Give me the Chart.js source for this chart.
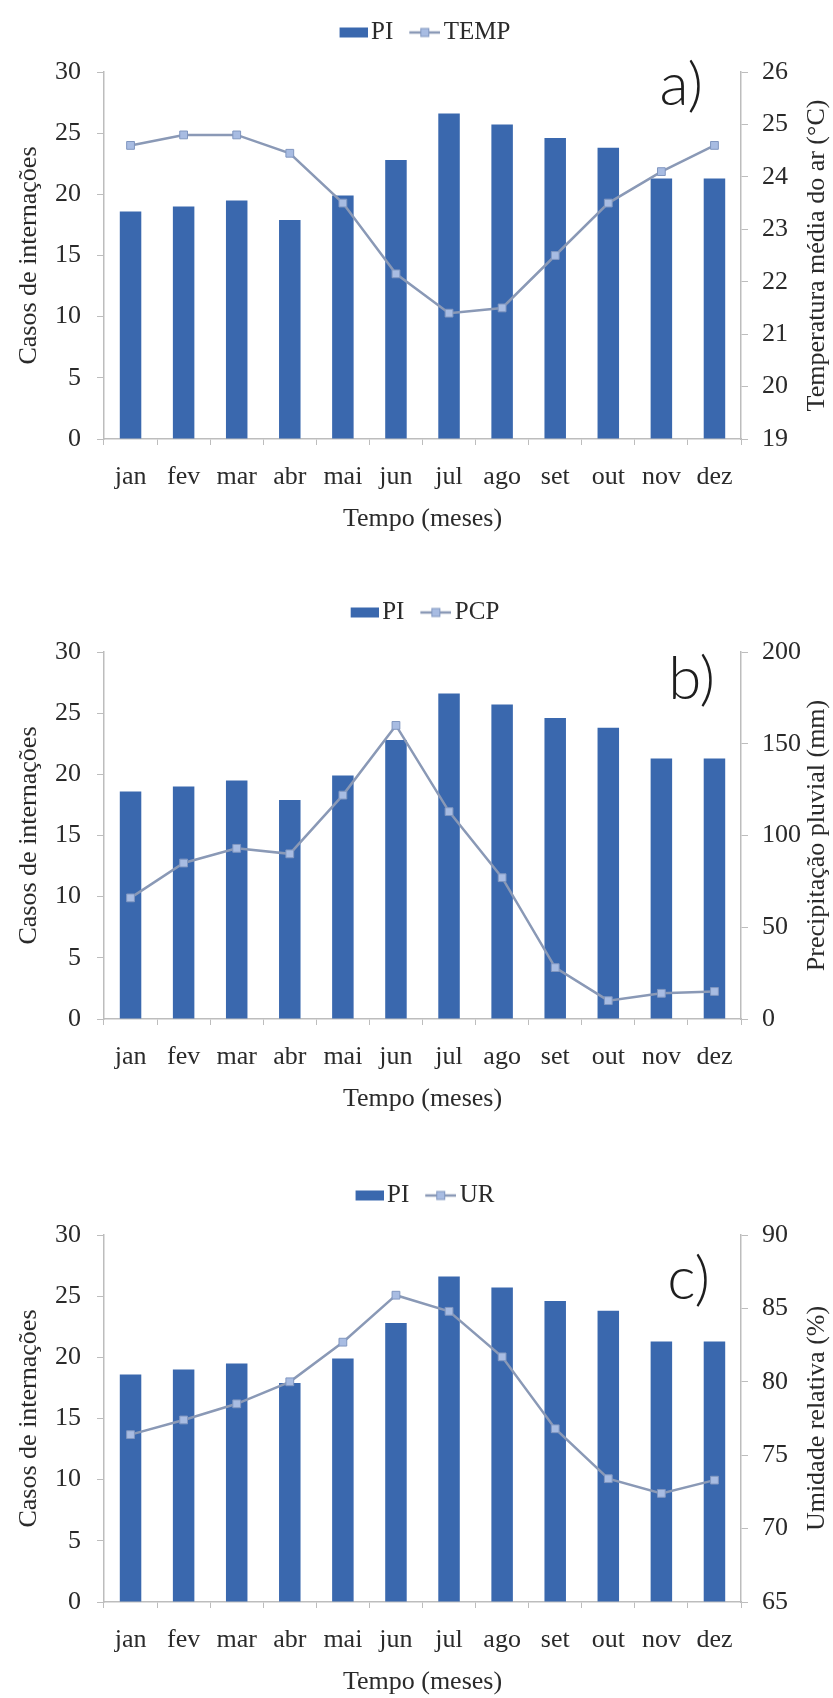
<!DOCTYPE html>
<html>
<head>
<meta charset="utf-8">
<script src="https://cdn.jsdelivr.net/npm/chart.js@4.4.1/dist/chart.umd.min.js"></script>
<style>
  html, body { margin: 0; padding: 0; background: #fff; }
  body { width: 833px; height: 1698px; position: relative; overflow: hidden; }
  .panel { position: absolute; left: 0; width: 833px; height: 535px; }
</style>
</head>
<body>
<div class="panel" style="top:0"><canvas id="chartA"></canvas></div>
<div class="panel" style="top:580px"><canvas id="chartB"></canvas></div>
<div class="panel" style="top:1163px"><canvas id="chartC"></canvas></div>
<script>
// ── Data ──
const MONTHS = ['jan', 'fev', 'mar', 'abr', 'mai', 'jun', 'jul', 'ago', 'set', 'out', 'nov', 'dez'];
const PI   = [18.6, 19.0, 19.5, 17.9, 19.9, 22.8, 26.6, 25.7, 24.6, 23.8, 21.3, 21.3];
const TEMP = [24.6, 24.8, 24.8, 24.45, 23.5, 22.15, 21.4, 21.5, 22.5, 23.5, 24.1, 24.6];
const PCP  = [66, 85, 93, 90, 122, 160, 113, 77, 28, 10, 14, 15];
const UR   = [76.4, 77.4, 78.5, 80.0, 82.7, 85.9, 84.8, 81.7, 76.8, 73.4, 72.4, 73.3];

const LEFT_TICKS = [0, 5, 10, 15, 20, 25, 30];
const TEMP_TICKS = [19, 20, 21, 22, 23, 24, 25, 26];
const PCP_TICKS  = [0, 50, 100, 150, 200];
const UR_TICKS   = [65, 70, 75, 80, 85, 90];

const LEFT_TITLE = 'Casos de internações';
const X_TITLE = 'Tempo (meses)';

// ── Styles ──
const BAR_COLOR = '#3a68ae';
const LINE_COLOR = '#8a99b6';
const MARKER_FILL = '#a8bce2';
const MARKER_EDGE = '#8197c0';
const AXIS = '#bdbdbd';
const TEXT = '#2a2a2a';
const SERIF = "'Liberation Serif', 'Times New Roman', serif";
const FONT = { family: SERIF, size: 26 };

// legend icons: a bar swatch and a line with a square marker
function legendIcon(kind) {
    const c = document.createElement('canvas');
    c.width = 42; c.height = 12;
    const g = c.getContext('2d');
    if (kind === 'bar') {
        g.fillStyle = BAR_COLOR;
        g.fillRect(14, 1, 28, 10);
    } else {
        g.strokeStyle = LINE_COLOR; g.lineWidth = 2.5;
        g.beginPath(); g.moveTo(11, 6); g.lineTo(42, 6); g.stroke();
        g.fillStyle = MARKER_FILL; g.strokeStyle = MARKER_EDGE; g.lineWidth = 1;
        g.fillRect(22.5, 2, 8, 8); g.strokeRect(22.5, 2, 8, 8);
    }
    return c;
}
const ICON_BAR = legendIcon('bar');
const ICON_LINE = legendIcon('line');

// panel tag ("a)") and the right axis title, which reads bottom to top
const panelDecor = {
    id: 'panelDecor',
    afterDraw(chart, args, opts) {
        const { ctx, chartArea } = chart;
        ctx.save();
        ctx.font = "300 60px Lato, 'DejaVu Sans', sans-serif";
        ctx.fillStyle = '#1e1e1e';
        ctx.textAlign = 'right';
        ctx.textBaseline = 'middle';
        ctx.fillText(opts.tag, chartArea.right - opts.tagRight, chartArea.top + opts.tagDy);

        ctx.translate(opts.titleX, (chartArea.top + chartArea.bottom) / 2);
        ctx.rotate(-Math.PI / 2);
        ctx.font = `26px ${SERIF}`;
        ctx.fillStyle = TEXT;
        ctx.textAlign = 'center';
        ctx.fillText(opts.rightTitle, 0, 0);
        ctx.restore();
    }
};

function makePanel(id, lineLabel, lineData, rightTicks, rightTitle, tag, tagDy, tagRight) {
    new Chart(document.getElementById(id), {
        type: 'bar',
        data: {
            labels: MONTHS,
            datasets: [
                {
                    type: 'bar',
                    label: 'PI',
                    data: PI,
                    backgroundColor: BAR_COLOR,
                    barPercentage: 0.405,
                    categoryPercentage: 1,
                    yAxisID: 'y',
                    order: 1,
                },
                {
                    type: 'line',
                    label: lineLabel,
                    data: lineData,
                    borderColor: LINE_COLOR,
                    borderWidth: 2.5,
                    pointStyle: 'rect',
                    pointRadius: 5.5,
                    pointBackgroundColor: MARKER_FILL,
                    pointBorderColor: MARKER_EDGE,
                    pointBorderWidth: 1,
                    tension: 0,
                    yAxisID: 'y2',
                    order: 0,
                }
            ]
        },
        options: {
            responsive: true,
            maintainAspectRatio: false,
            animation: false,
            layout: { padding: { top: 6, left: 0, right: 0, bottom: 0 } },
            plugins: {
                tooltip: { enabled: false },
                legend: {
                    position: 'top',
                    fullSize: false,
                    labels: {
                        usePointStyle: true,
                        pointStyleWidth: 24,
                        padding: 14,
                        color: TEXT,
                        font: { family: SERIF, size: 25 },
                        generateLabels(chart) {
                            const items = Chart.defaults.plugins.legend.labels.generateLabels(chart);
                            items.sort((a, b) => a.datasetIndex - b.datasetIndex);
                            items.forEach(it => { it.pointStyle = it.datasetIndex === 0 ? ICON_BAR : ICON_LINE; });
                            return items;
                        }
                    }
                },
                // empty spacer between legend and plot
                subtitle: {
                    display: true,
                    text: '',
                    position: 'top',
                    weight: 500,
                    fullSize: false,
                    font: { size: 10, lineHeight: 1 },
                    padding: { top: 0, bottom: 7 }
                },
                panelDecor: { tag, tagDy, tagRight, rightTitle, titleX: 817 }
            },
            scales: {
                x: {
                    grid: { display: true, drawOnChartArea: false, tickLength: 6, color: AXIS, offset: true },
                    border: { display: true, color: AXIS, width: 1.5 },
                    ticks: { font: FONT, color: TEXT, padding: 17, maxRotation: 0, autoSkip: false },
                    title: { display: true, text: X_TITLE, font: FONT, color: TEXT, padding: { top: 0, bottom: 0 } },
                    afterFit: s => { s.height = 96; }
                },
                y: {
                    position: 'left',
                    min: LEFT_TICKS[0],
                    max: LEFT_TICKS[LEFT_TICKS.length - 1],
                    afterBuildTicks: s => { s.ticks = LEFT_TICKS.map(v => ({ value: v })); },
                    grid: { drawOnChartArea: false, tickLength: 7, color: AXIS },
                    border: { display: true, color: AXIS, width: 1.5 },
                    ticks: { font: FONT, color: TEXT, padding: 16 },
                    title: { display: true, text: LEFT_TITLE, font: FONT, color: TEXT, padding: { top: 14, bottom: 0 } },
                    afterFit: s => { s.width = 104; }
                },
                y2: {
                    position: 'right',
                    min: rightTicks[0],
                    max: rightTicks[rightTicks.length - 1],
                    afterBuildTicks: s => { s.ticks = rightTicks.map(v => ({ value: v })); },
                    grid: { drawOnChartArea: false, tickLength: 7, color: AXIS },
                    border: { display: true, color: AXIS, width: 1.5 },
                    ticks: { font: FONT, color: TEXT, padding: 14 },
                    afterFit: s => { s.width = 92; }
                }
            }
        },
        plugins: [panelDecor]
    });
}

makePanel('chartA', 'TEMP', TEMP, TEMP_TICKS, 'Temperatura média do ar (°C)', 'a)', 14, 38);
makePanel('chartB', 'PCP', PCP, PCP_TICKS, 'Precipitação pluvial (mm)', 'b)', 28, 26);
makePanel('chartC', 'UR', UR, UR_TICKS, 'Umidade relativa (%)', 'c)', 45, 31);
</script>
</body>
</html>
